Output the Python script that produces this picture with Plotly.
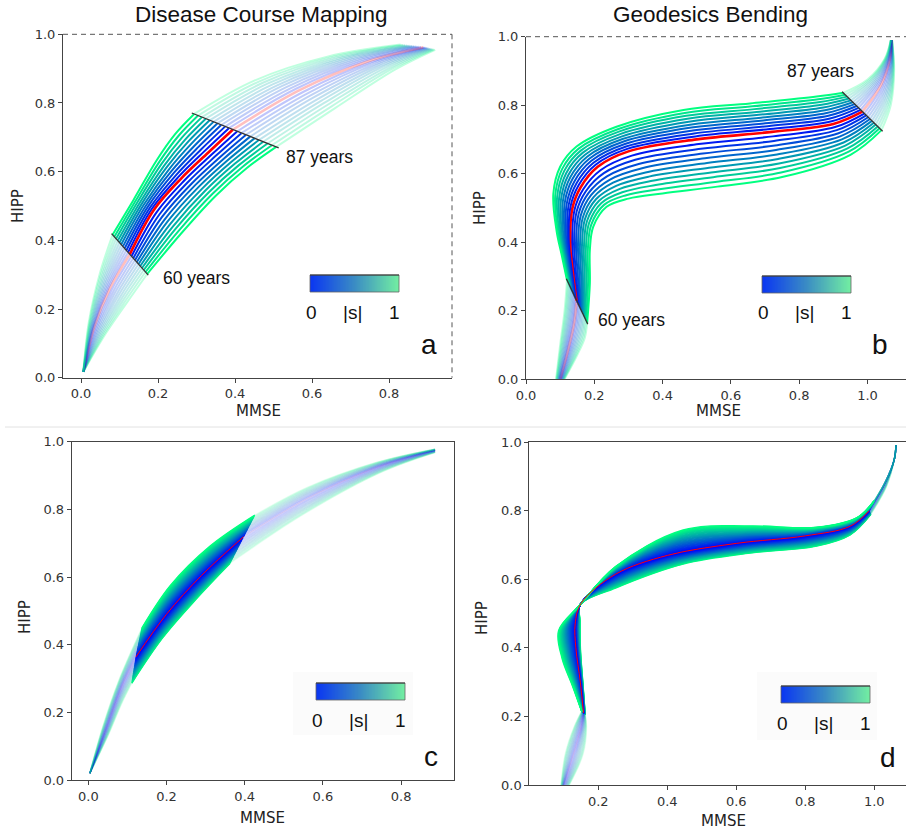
import numpy as np
import plotly.graph_objects as go

W, H = 906, 833

# ---------------- trajectory control points (MMSE, HIPP) ----------------
# Each panel: central trajectory (s = 0) and the two extreme trajectories
# (s = +1 / s = -1), sampled at matching positions along the course.
# WINDOW gives the indices of the 60-year and 87-year points.

# a) Disease Course Mapping
A_CENTER_X = [0.006, 0.035, 0.075, 0.127, 0.190, 0.260, 0.330, 0.394, 0.569, 0.742, 0.889]
A_CENTER_Y = [0.017, 0.150, 0.260, 0.360, 0.490, 0.580, 0.655, 0.722, 0.838, 0.920, 0.962]
A_UPPER_X = [0.006, 0.020, 0.048, 0.082, 0.136, 0.197, 0.245, 0.294, 0.450, 0.640, 0.830]
A_UPPER_Y = [0.017, 0.160, 0.300, 0.416, 0.517, 0.634, 0.710, 0.768, 0.865, 0.935, 0.970]
A_LOWER_X = [0.006, 0.065, 0.120, 0.172, 0.260, 0.350, 0.430, 0.507, 0.660, 0.820, 0.920]
A_LOWER_Y = [0.017, 0.130, 0.220, 0.302, 0.420, 0.530, 0.610, 0.672, 0.785, 0.900, 0.955]
A_WINDOW = (3, 7)

# b) Geodesics Bending
B_CENTER_X = [0.100, 0.123, 0.140, 0.148, 0.136, 0.129, 0.136, 0.160, 0.210, 0.300, 0.500,
              0.720, 0.900, 0.985, 1.040, 1.065, 1.070]
B_CENTER_Y = [0.000, 0.085, 0.160, 0.229, 0.320, 0.400, 0.500, 0.560, 0.620, 0.665, 0.700,
              0.722, 0.745, 0.781, 0.860, 0.935, 0.990]
B_UPPER_X = [0.088, 0.100, 0.113, 0.120, 0.105, 0.090, 0.080, 0.100, 0.148, 0.265, 0.461,
             0.656, 0.851, 0.929, 1.000, 1.050, 1.068]
B_UPPER_Y = [0.000, 0.100, 0.200, 0.289, 0.360, 0.430, 0.540, 0.620, 0.679, 0.737, 0.786,
             0.805, 0.825, 0.836, 0.875, 0.935, 0.990]
B_LOWER_X = [0.113, 0.150, 0.172, 0.179, 0.187, 0.187, 0.197, 0.236, 0.300, 0.400, 0.560,
             0.750, 0.950, 1.041, 1.068, 1.078, 1.072]
B_LOWER_Y = [0.000, 0.070, 0.120, 0.164, 0.280, 0.377, 0.445, 0.503, 0.527, 0.542, 0.562,
             0.590, 0.655, 0.727, 0.800, 0.900, 0.990]
B_WINDOW = (3, 13)

# c) Disease Course Mapping, dense sampling of s
C_CENTER_X = [0.004, 0.045, 0.085, 0.122, 0.200, 0.290, 0.397, 0.560, 0.740, 0.887]
C_CENTER_Y = [0.020, 0.150, 0.275, 0.364, 0.490, 0.605, 0.719, 0.832, 0.925, 0.975]
C_UPPER_X = [0.004, 0.035, 0.080, 0.137, 0.210, 0.310, 0.426, 0.560, 0.740, 0.887]
C_UPPER_Y = [0.020, 0.150, 0.300, 0.449, 0.575, 0.690, 0.783, 0.865, 0.940, 0.978]
C_LOWER_X = [0.004, 0.050, 0.085, 0.111, 0.190, 0.280, 0.362, 0.550, 0.750, 0.887]
C_LOWER_Y = [0.020, 0.130, 0.225, 0.286, 0.420, 0.540, 0.640, 0.785, 0.910, 0.968]
C_WINDOW = (3, 6)

# d) Geodesics Bending, dense sampling of s
D_CENTER_X = [0.100, 0.128, 0.150, 0.157, 0.148, 0.135, 0.133, 0.150, 0.250, 0.400, 0.600,
              0.800, 0.930, 0.985, 1.030, 1.058, 1.063]
D_CENTER_Y = [0.000, 0.090, 0.170, 0.210, 0.300, 0.400, 0.470, 0.530, 0.615, 0.670, 0.705,
              0.727, 0.755, 0.800, 0.880, 0.950, 0.992]
D_UPPER_X = [0.092, 0.104, 0.130, 0.152, 0.125, 0.095, 0.085, 0.147, 0.250, 0.446, 0.640,
             0.833, 0.950, 1.000, 1.035, 1.058, 1.063]
D_UPPER_Y = [0.000, 0.090, 0.170, 0.215, 0.290, 0.370, 0.450, 0.525, 0.637, 0.744, 0.756,
             0.752, 0.780, 0.830, 0.890, 0.950, 0.992]
D_LOWER_X = [0.116, 0.156, 0.166, 0.162, 0.155, 0.148, 0.147, 0.147, 0.250, 0.446, 0.640,
             0.833, 0.930, 0.990, 1.035, 1.058, 1.063]
D_LOWER_Y = [0.000, 0.090, 0.170, 0.205, 0.300, 0.400, 0.480, 0.525, 0.575, 0.645, 0.677,
             0.697, 0.730, 0.790, 0.870, 0.950, 0.992]
D_WINDOW = (3, 13)

TITLES = ["Disease Course Mapping", "Geodesics Bending"]
PANEL_LETTERS = ["a", "b", "c", "d"]
AGE_LABELS = ["60 years", "87 years"]
CBAR_LABELS = ["0", "|s|", "1"]
S_ABS = np.linspace(0, 1, 120)          # |s| values shown by the colour bars

# ---------------- layout geometry (pixels) ----------------
PANELS = [
    dict(box=(63, 452, 34.3, 377.7), xr=(-0.0468, 0.9636), xt=[0, 0.2, 0.4, 0.6, 0.8],
         mmse=(258, 411), hipp=(18, 206)),
    dict(box=(526, 906, 36.7, 379.0), xr=(0.0, 1.1127), xt=[0, 0.2, 0.4, 0.6, 0.8, 1.0],
         mmse=(718, 411), hipp=(480, 208)),
    dict(box=(71.7, 454, 441.7, 780.0), xr=(-0.0425, 0.9353), xt=[0, 0.2, 0.4, 0.6, 0.8],
         mmse=(262, 818), hipp=(25, 617)),
    dict(box=(529.3, 906, 442.3, 785.0), xr=(0.0, 1.0919), xt=[0.2, 0.4, 0.6, 0.8, 1.0],
         mmse=(723, 821), hipp=(482, 618)),
]
CBARS = [(310, 275), (762, 276), (316, 683), (781, 686)]   # left, top of colour bars
CB_LEN, CB_THICK = 89, 17


def px(x):
    return x / W


def py(y):
    return 1 - y / H


def winter(v, a):
    return f"rgba(0,{round(255 * v)},{round(255 * (1 - 0.5 * v))},{a})"


def note(text, x, y, size, family="Liberation Sans", color="#111", **kw):
    d = dict(text=text, x=px(x), y=py(y), xref="paper", yref="paper", showarrow=False,
             xanchor="center", yanchor="middle",
             font=dict(family=family, size=size, color=color))
    d.update(kw)
    return d


fig = go.Figure()


def add_family(k, cx, cy, ux, uy, lx, ly, window, n_side, width, cwidth, fade, red_on_top):
    xa = "x" if k == 0 else f"x{k + 1}"
    ya = "y" if k == 0 else f"y{k + 1}"
    cx, cy, ux, uy, lx, ly = map(np.asarray, (cx, cy, ux, uy, lx, ly))
    w0, w1 = window
    # signed s from -1 (lower extreme) to +1 (upper extreme); s = 0 is the red course
    curves = []
    for s in np.linspace(-1, 1, 2 * n_side + 1):
        ox, oy = (ux, uy) if s > 0 else (lx, ly)
        v = abs(s)
        curves.append((v, cx + v * (ox - cx), cy + v * (oy - cy)))

    def seg_out(a):
        return list(a[: w0 + 1]) + [None] + list(a[w1:])

    def trace(x, y, color, w):
        fig.add_trace(go.Scatter(
            x=x, y=y, mode="lines", xaxis=xa, yaxis=ya, hoverinfo="skip",
            showlegend=False, line=dict(color=color, width=w, shape="spline", smoothing=1.0)))

    def col(v, a):
        return f"rgba(255,0,0,{a})" if v < 1e-9 else winter(v, a)

    # faded parts outside the 60-87 year window
    for v, x, y in curves:
        trace(seg_out(x), seg_out(y), col(v, fade), cwidth if v < 1e-9 else width)
    # observed window
    for v, x, y in curves:
        if v < 1e-9 and red_on_top:
            continue
        trace(list(x[w0:w1 + 1]), list(y[w0:w1 + 1]), col(v, 1), cwidth if v < 1e-9 else width)
    if red_on_top:
        trace(list(cx[w0:w1 + 1]), list(cy[w0:w1 + 1]), "rgb(255,0,0)", cwidth)


add_family(0, A_CENTER_X, A_CENTER_Y, A_UPPER_X, A_UPPER_Y, A_LOWER_X, A_LOWER_Y,
           A_WINDOW, 10, 2.0, 2.6, 0.25, True)
add_family(1, B_CENTER_X, B_CENTER_Y, B_UPPER_X, B_UPPER_Y, B_LOWER_X, B_LOWER_Y,
           B_WINDOW, 10, 2.0, 2.6, 0.25, False)
add_family(2, C_CENTER_X, C_CENTER_Y, C_UPPER_X, C_UPPER_Y, C_LOWER_X, C_LOWER_Y,
           C_WINDOW, 30, 1.5, 1.0, 0.07, True)
add_family(3, D_CENTER_X, D_CENTER_Y, D_UPPER_X, D_UPPER_Y, D_LOWER_X, D_LOWER_Y,
           D_WINDOW, 30, 1.5, 1.0, 0.07, True)

shapes = []
annotations = []
layout = dict(width=W, height=H, margin=dict(l=0, r=0, t=0, b=0, autoexpand=False),
              paper_bgcolor="white", plot_bgcolor="white", showlegend=False)

TICKFONT = dict(family="DejaVu Sans", size=13, color="#333")
AX = dict(showgrid=False, zeroline=False, showline=True, linecolor="#444", linewidth=1,
          ticks="outside", ticklen=4, tickcolor="#444", tickfont=TICKFONT, tickformat=".1f",
          automargin=False)

for k, p in enumerate(PANELS):
    l, r, t, b = p["box"]
    sx = "" if k == 0 else str(k + 1)
    mirror = k >= 2
    layout["xaxis" + sx] = dict(AX, domain=[px(l), px(r)], range=list(p["xr"]),
                                tickvals=p["xt"], anchor="y" + sx, mirror=mirror)
    layout["yaxis" + sx] = dict(AX, domain=[py(b), py(t)], range=[0, 1],
                                tickvals=[0, 0.2, 0.4, 0.6, 0.8, 1.0], anchor="x" + sx,
                                mirror=mirror)
    annotations.append(note("MMSE", *p["mmse"], 15, family="DejaVu Sans", color="#222"))
    annotations.append(note("HIPP", *p["hipp"], 15, family="DejaVu Sans", color="#222",
                            textangle=-90))

# colour bars for |s|, drawn as gradient strips on their own small axes
CB_SCALE = [[0, "#0a36f2"], [0.5, "#3a8cc4"], [1, "#72eea2"]]
ds = S_ABS[1] - S_ABS[0]
for k, (x0, y0) in enumerate(CBARS):
    n = 5 + k
    fig.add_trace(go.Heatmap(z=[list(S_ABS)], x=list(S_ABS), y=[0], colorscale=CB_SCALE,
                             zmin=0, zmax=1, showscale=False, hoverinfo="skip",
                             xaxis=f"x{n}", yaxis=f"y{n}"))
    layout[f"xaxis{n}"] = dict(domain=[px(x0), px(x0 + CB_LEN)], visible=False,
                               range=[S_ABS[0] - ds / 2, S_ABS[-1] + ds / 2],
                               anchor=f"y{n}", automargin=False)
    layout[f"yaxis{n}"] = dict(domain=[py(y0 + CB_THICK), py(y0)], visible=False,
                               range=[-0.5, 0.5], anchor=f"x{n}", automargin=False)
    shapes.append(dict(type="rect", xref="paper", yref="paper", x0=px(x0),
                       x1=px(x0 + CB_LEN), y0=py(y0 + CB_THICK), y1=py(y0),
                       line=dict(color="#666", width=0.8)))
    shapes.append(dict(type="line", xref="paper", yref="paper", x0=px(x0),
                       x1=px(x0 + CB_LEN), y0=py(y0), y1=py(y0),
                       line=dict(color="#333", width=1)))
    for lab, dx in zip(CBAR_LABELS, [1, CB_LEN / 2 - 2.5, CB_LEN - 5]):
        annotations.append(note(lab, x0 + dx, y0 + 37, 19))

# dashed top/right frame of the upper panels
dash = dict(color="#555", width=1, dash="5px,4px")
shapes.append(dict(type="line", xref="paper", yref="paper", x0=px(63), x1=px(452),
                   y0=py(34.3), y1=py(34.3), line=dash))
shapes.append(dict(type="line", xref="paper", yref="paper", x0=px(452), x1=px(452),
                   y0=py(34.3), y1=py(377.7), line=dash))
shapes.append(dict(type="line", xref="paper", yref="paper", x0=px(526), x1=1,
                   y0=py(36.7), y1=py(36.7), line=dash))
# separator between the two rows
shapes.append(dict(type="line", xref="paper", yref="paper", x0=px(5), x1=1,
                   y0=py(427), y1=py(427), line=dict(color="#e2e2e2", width=1)))
# pale backgrounds behind the lower colour bars
for (x0, y0, x1, y1) in [(293, 672, 413, 735), (757, 672, 877, 740)]:
    shapes.append(dict(type="rect", xref="paper", yref="paper", x0=px(x0), x1=px(x1),
                       y0=py(y1), y1=py(y0), fillcolor="#fbfbfb", line=dict(width=0),
                       layer="below"))

# age lines at the window limits of the upper panels
for sx, (ux, uy, lx, ly, win) in zip(["", "2"], [
        (A_UPPER_X, A_UPPER_Y, A_LOWER_X, A_LOWER_Y, A_WINDOW),
        (B_UPPER_X, B_UPPER_Y, B_LOWER_X, B_LOWER_Y, B_WINDOW)]):
    for i in win:
        x0, y0, x1, y1 = ux[i], uy[i], lx[i], ly[i]
        ex, ey = 0.03 * (x1 - x0), 0.03 * (y1 - y0)
        shapes.append(dict(type="line", xref="x" + sx, yref="y" + sx,
                           x0=x0 - ex, y0=y0 - ey, x1=x1 + ex, y1=y1 + ey,
                           line=dict(color="#333", width=1.3)))

AGE_POS = [[(161, 278), (284, 157)], [(596, 320), (785, 71)]]
for pos in AGE_POS:
    for lab, (x, y) in zip(AGE_LABELS, pos):
        annotations.append(note(lab, x, y, 17.5, xanchor="left"))

for lab, x in zip(TITLES, [261, 710]):
    annotations.append(note(lab, x, 15, 22.5))

for lab, (x, y) in zip(PANEL_LETTERS, [(429, 345), (880, 345), (431, 756), (888, 757)]):
    annotations.append(note(lab, x, y, 28))

layout["shapes"] = shapes
layout["annotations"] = annotations
fig.update_layout(**layout)
fig.write_html("out.html")
